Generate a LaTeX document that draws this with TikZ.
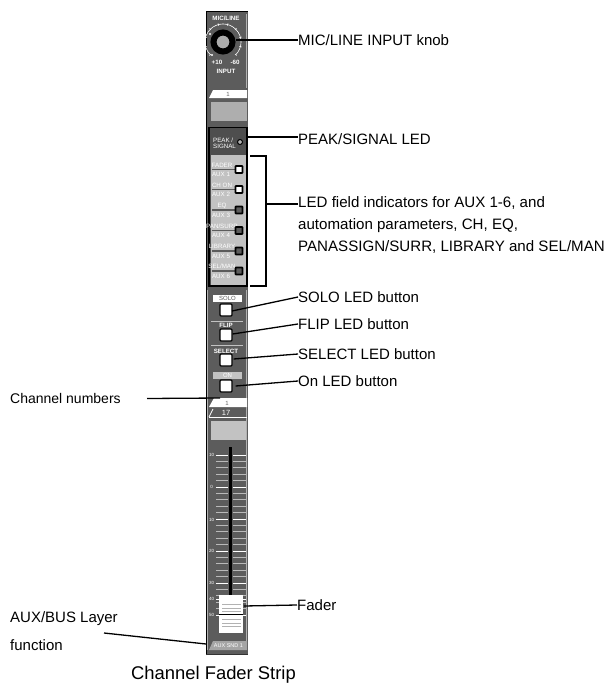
\documentclass[tikz,border=0pt]{standalone}
\usepackage{fontspec}
\setmainfont{Liberation Sans}
\usetikzlibrary{positioning, calc}
\definecolor{stripgray}{gray}{0.36}
\definecolor{panelgray}{gray}{0.76}
\begin{document}
\begin{tikzpicture}[
    x=1pt, y=-1pt,
    callout/.style={anchor=west, inner sep=0pt, font=\fontsize{15}{17}\selectfont},
    sline/.style={black, line width=1.3pt},
    tiny/.style={inner sep=0pt, text=white, font=\fontsize{6.2}{7}\selectfont\bfseries},
    rowtxt/.style={inner sep=0pt, text=white, font=\fontsize{6.2}{7}\selectfont},
    ledbox/.style={draw=black, line width=1.6pt, minimum size=7pt, inner sep=0pt, rounded corners=0.5pt},
    pushbtn/.style={draw=black, line width=1.2pt, fill=white, minimum size=12pt, inner sep=0pt, rounded corners=1pt},
    tagbox/.style={minimum height=7.5pt, minimum width=29pt, inner sep=0pt, font=\fontsize{6}{7}\selectfont}
]
\useasboundingbox (0,0) rectangle (606,685);
% strip body
\fill[stripgray] (206,12) rectangle (247.5,655);
\draw[black, line width=1pt] (206.5,655) -- (206.5,12) -- (247.5,12);
\draw[black!80, line width=1.5pt] (206,654.5) -- (247.5,654.5);
\draw[gray!60, line width=1pt] (207.5,290) -- (207.5,650);
\draw[gray!60, line width=1pt] (246.5,14) -- (246.5,88);
\draw[gray!60, line width=1pt] (246.5,290) -- (246.5,650);
% knob
\draw[white, line width=0.6pt] (210.3,54.7) arc (135:405:18);
\foreach \a in {135,165,...,405}
  \draw[white, line width=0.7pt] (223,42) ++(\a:17) -- ++(\a:2.2);
\fill[white] (210,34) circle (1.1pt) (212,55) circle (1.1pt);
\node[circle, draw=black, line width=6pt, outer sep=0pt, fill=gray!65, minimum size=19pt, inner sep=0pt] (knob) at (223,42) {};
\node[tiny] (micline) at (226,18) {MIC/LINE};
\node[tiny] (plusten) at (217,62) {+10};
\node[tiny] (minussixty) at (235,62) {-60};
\node[tiny] (inputlbl) at (226,71) {INPUT};
% channel tag and name box
\fill[white] (209,98) -- (213,90) -- (247,90) -- (247,98) -- cycle;
\node[font=\fontsize{6}{7}\selectfont, text=gray!80!black, inner sep=0pt] (tagone) at (228,94) {1};
\fill[gray!30!panelgray] (211,102) rectangle (247,121);
% peak section
\draw[black, line width=1.2pt, fill=stripgray!85!black] (209,127.5) rectangle (247,286);
\fill[panelgray] (211,155) rectangle (246,285);
\node[tiny, align=left, anchor=west, font=\fontsize{6.2}{6}\selectfont] (peak) at (213,143) {PEAK /\\SIGNAL};
\node[circle, draw=black, line width=1pt, fill=gray!60, minimum size=5pt, inner sep=0pt] (peakled) at (240,142) {};
% field rows
\foreach \rowy/\top/\aux/\lit in {165/FADER/AUX 1/white, 185/CH ON/AUX 2/white, 205.5/EQ/AUX 3/stripgray, 226/PAN{/}SURR/AUX 4/stripgray, 246.5/LIBRARY/AUX 5/stripgray, 266.5/SEL{/}MAN/AUX 6/stripgray} {
  \draw[stripgray, line width=1.3pt] (212,\rowy+4.5) -- (236,\rowy+4.5);
  \node[rowtxt] at (222,\rowy) {\top};
  \node[rowtxt] at (221,\rowy+9.5) {\aux};
  \node[ledbox, fill=\lit] at (239,\rowy+4.5) {};
}
% buttons
\node[tagbox, fill=white, text=gray!70!black] (sololbl) at (227.5,298.5) {SOLO};
\node[pushbtn] (solo) at (226,310) {};
\draw[panelgray, line width=0.7pt] (211,321) -- (243,321);
\node[tiny] (fliplbl) at (226,325) {FLIP};
\node[pushbtn] (flip) at (226,335) {};
\draw[panelgray, line width=0.7pt] (211,345) -- (243,345);
\node[tiny] (selectlbl) at (226,351) {SELECT};
\node[pushbtn] (select) at (226,360) {};
\node[tagbox, fill=panelgray, text=white] (onlbl) at (227.5,375.5) {ON};
\node[pushbtn] (onbtn) at (226,386) {};
% channel number tags
\fill[white] (209,407) -- (214,398) -- (247,398) -- (247,407) -- cycle;
\node[font=\fontsize{6}{7}\selectfont, text=gray!80!black, inner sep=0pt] (tagch) at (227,403) {1};
\draw[white, line width=0.8pt] (209,417) -- (247,417);
\draw[white, line width=0.8pt] (209,417) -- (213,409);
\node[font=\fontsize{7.5}{8}\selectfont, text=white, inner sep=0pt] (taglayer) at (226,413) {17};
\fill[panelgray] (211,421) rectangle (246,440);
% fader scale
\foreach \k in {0,...,25} {
  \draw[gray!55, line width=0.7pt] (216,{455+\k*6.4}) -- (228,{455+\k*6.4});
  \draw[gray!55, line width=0.7pt] (233,{455+\k*6.4}) -- (246,{455+\k*6.4});
}
\foreach \k in {0,5,10,15,20,22.5,25} {
  \draw[white, line width=0.8pt] (216,{455+\k*6.4}) -- (228,{455+\k*6.4});
  \draw[white, line width=0.8pt] (233,{455+\k*6.4}) -- (246,{455+\k*6.4});
}
\foreach \lbl/\yy in {10/455, 0/487, 10/519.5, 20/551, 30/583, 40/599, 50/615}
  \node[tiny, font=\fontsize{4.5}{5}\selectfont] at (211.5,\yy) {\lbl};
\draw[black, line width=2.4pt] (230.5,447) -- (230.5,596);
% fader cap
\node[fill=white, minimum width=24pt, minimum height=38pt, inner sep=0pt] (fadercap) at (231,614) {};
\foreach \yy in {604,608,611,619,623,626}
  \draw[gray!60, line width=0.8pt] (222,\yy) -- (241,\yy);
\draw[black, line width=1pt] (219,614.5) -- (243,614.5);
% layer tag
\fill[panelgray!85!black] (209,650) -- (213,641) -- (247,641) -- (247,650) -- cycle;
\node[tiny, font=\fontsize{5.5}{6}\selectfont] (layertag) at (228.5,645.5) {AUX SND 1};
% labels
\node[callout] (lblknob) at (298,40) {MIC/LINE INPUT knob};
\node[callout] (lblpeak) at (298,139) {PEAK/SIGNAL LED};
\node[callout, align=left, font=\fontsize{15.1}{22}\selectfont] (lblfield) at (298,224.5) {LED field indicators for AUX 1-6, and\\automation parameters, CH, EQ,\\PANASSIGN/SURR, LIBRARY and SEL/MAN};
\node[callout] (lblsolo) at (298,297) {SOLO LED button};
\node[callout] (lblflip) at (298,324) {FLIP LED button};
\node[callout] (lblselect) at (298,354) {SELECT LED button};
\node[callout] (lblon) at (298,381) {On LED button};
\node[callout, font=\fontsize{14}{16}\selectfont] (lblchan) at (10,398) {Channel numbers};
\node[callout] (lblfader) at (297,605) {Fader};
\node[callout, align=left, font=\fontsize{15}{28}\selectfont] (lblaux) at (10,631) {AUX/BUS Layer\\function};
\node[anchor=center, inner sep=0pt, font=\fontsize{18.4}{20}\selectfont] (caption) at (213.5,675) {Channel Fader Strip};
% connectors
\coordinate (brtop) at (250,156);
\coordinate (brbot) at (250,286);
\coordinate (brknee) at (266,204);
\coordinate (knobend) at (236,40);
\coordinate (peakend) at (247.5,137);
\coordinate (faderend) at (244,606);
\coordinate (chanend) at (220,398);
\coordinate (auxend) at (206,644);
\coordinate (auxstart) at (104,633);
\coordinate (chanstart) at (147,398.5);
\draw[sline] (knobend) -- (lblknob.west);
\draw[sline] (peakend) -- (peakend -| lblpeak.west);
\draw[sline] (brtop) -- (266,156) -- (266,286) -- (brbot);
\draw[sline] (brknee) -- (brknee -| lblfield.west);
\draw[sline] (solo.center) ++(6,1) -- (lblsolo.west);
\draw[sline] (flip.east) ++(0,-1) -- (lblflip.west);
\draw[sline] (select.east) ++(1,-1) -- (lblselect.west);
\draw[sline] (onbtn.east) ++(3,0) -- (lblon.west);
\draw[sline] (chanstart) -- (chanend);
\draw[sline] (faderend) -- (lblfader.west);
\draw[sline] (auxstart) -- (auxend);
\end{tikzpicture}
\end{document}
